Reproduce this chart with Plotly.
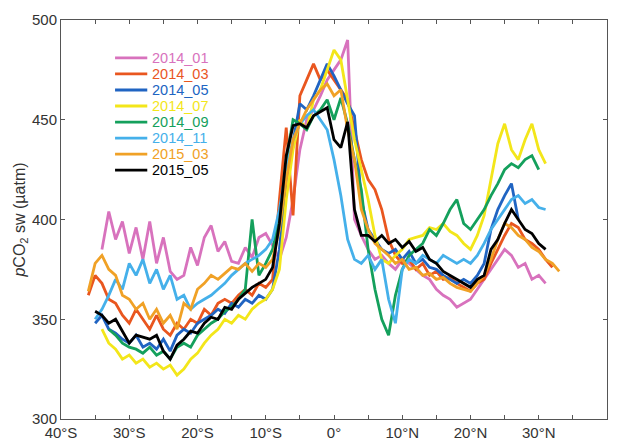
import plotly.graph_objects as go

# latitude grid (negative = south), 1 degree steps
LAT = [-36, -35, -34, -33, -32, -31, -30, -29, -28, -27, -26, -25, -24, -23, -22, -21,
       -20, -19, -18, -17, -16, -15, -14, -13, -12, -11, -10, -9, -8, -7, -6, -5, -4,
       -3, -2, -1, 0, 1, 2, 3, 4, 5, 6, 7, 8, 9, 10, 11, 12, 13, 14, 15, 16, 17, 18,
       19, 20, 21, 22, 23, 24, 25, 26, 27, 28, 29, 30, 31, 32, 33]

N = None

# pCO2 sw (uatm) per cruise, one value per LAT entry (None = no data)
p2014_01 = [N, N, 385, 404, 390, 399, 383, 396, 380, 399, 378, 391, 374, 370, 372, 386,
            377, 391, 397, 384, 389, 379, 378, 386, 381, 391, 393, 387, 380, 391, 410, 435,
            450, 455, 462, 470, 475, 480, 490, 400, 392, 385, 380, 382, 378, 375, 380, 378,
            375, 372, 370, 365, 362, 360, 356, 358, 360, 365, 370, 375, 380, 385, 382, 376,
            378, 370, 372, 368, N, N]
p2014_03 = [362, 372, 368, 360, 358, 352, 348, 355, 350, 345, 352, 345, 342, 348, 345, 350,
            348, 355, 352, 358, 360, 358, 362, 365, 362, 368, 366, 370, 410, 446, 402, 462,
            470, 478, 470, 475, 470, 465, 460, 445, 430, 420, 415, 405, 390, 382, 378, 380,
            375, 378, 372, 374, 370, 371, 368, 366, 364, 368, 370, 378, 385, 392, 398, 396,
            390, 388, 385, 380, 376, N]
p2014_05 = [N, 348, 352, 345, 343, 340, 338, 342, 336, 338, 335, 340, 334, 342, 345, 343,
            348, 350, 352, 355, 353, 358, 356, 360, 358, 362, 360, 365, 385, 420, 440, 458,
            455, 462, 470, 478, 472, 465, 458, 452, 410, 395, 390, 385, 383, 385, 380, 384,
            378, 380, 376, 375, 372, 370, 368, 370, 368, 372, 378, 395, 405, 412, 418, 400,
            N, N, N, N, N, N]
p2014_07 = [N, N, 345, 338, 335, 330, 332, 328, 330, 326, 328, 325, 327, 322, 325, 330,
            333, 338, 342, 345, 350, 348, 352, 350, 355, 358, 360, 365, 375, 410, 435, 450,
            445, 460, 465, 475, 485, 480, 460, 440, 425, 410, 392, 380, 378, 382, 385, 390,
            391, 392, 396, 395, 398, 394, 392, 388, 385, 392, 402, 420, 438, 448, 435, 430,
            440, 448, 435, 428, N, N]
p2014_09 = [N, N, N, 345, 342, 338, 336, 335, 333, 336, 332, 334, 330, 336, 338, 336,
            342, 345, 348, 350, 354, 356, 360, 365, 400, 372, 378, 385, 400, 430, 450, 448,
            445, 452, 455, 460, 450, 461, 448, 430, 415, 385, 365, 350, 342, 362, 375, 382,
            385, 388, 395, 392, 398, 405, 410, 398, 395, 400, 405, 412, 418, 425, 428, 426,
            430, 432, 425, N, N, N]
p2014_11 = [N, 350, 355, 362, 370, 365, 378, 372, 380, 368, 375, 365, 372, 360, 362, 355,
            358, 360, 362, 365, 368, 372, 375, 378, 380, 382, 385, 390, 405, 425, 440, 448,
            452, 455, 450, 445, 430, 412, 390, 380, 378, 382, 375, 380, 360, 348, 375, 380,
            378, 382, 380, 378, 382, 380, 378, 380, 378, 382, 388, 395, 400, 405, 410, 412,
            408, 410, 406, 405, N, N]
p2015_03 = [364, 378, 382, 375, 372, 362, 360, 355, 358, 350, 355, 348, 352, 345, 358, 355,
            365, 368, 372, 370, 373, 376, 375, 378, 374, 378, 376, 380, 395, 420, 440, 448,
            455, 460, 465, 468, 462, 465, 445, 430, 405, 395, 388, 385, 382, 378, 380, 375,
            376, 372, 373, 370, 371, 368, 366, 365, 364, 368, 372, 380, 390, 398, 396, 392,
            390, 386, 384, 380, 378, 374]
p2015_05 = [N, 354, 352, 348, 350, 344, 338, 342, 341, 340, 342, 334, 330, 337, 340, 344,
            343, 348, 351, 350, 356, 355, 360, 363, 366, 368, 370, 376, 398, 432, 447, 448,
            446, 452, 454, 456, 440, 436, 449, 405, 392, 392, 389, 392, 388, 390, 386, 389,
            384, 386, 380, 378, 374, 372, 370, 368, 366, 370, 372, 385, 390, 398, 405, 400,
            395, 393, 388, 385, N, N]

SERIES = [
    ("2014_01", p2014_01, "#d872bd"),
    ("2014_03", p2014_03, "#e9561f"),
    ("2014_05", p2014_05, "#2064c2"),
    ("2014_07", p2014_07, "#f3e61a"),
    ("2014_09", p2014_09, "#14a05c"),
    ("2014_11", p2014_11, "#45b0ea"),
    ("2015_03", p2015_03, "#f0a126"),
    ("2015_05", p2015_05, "#000000"),
]

X_TICKS = [-40, -30, -20, -10, 0, 10, 20, 30, 40]
X_LABELS = ["40°S", "30°S", "20°S", "10°S", "0°", "10°N", "20°N", "30°N", "40°N"]

fig = go.Figure()
for name, vals, color in SERIES:
    fig.add_scatter(
        x=LAT,
        y=vals,
        mode="lines",
        name=name,
        line=dict(color=color, width=2.8),
        showlegend=False,
    )

# legend drawn by hand (tight MATLAB-style spacing, coloured labels)
leg_top, leg_step = 0.905, 0.0402
for i, (name, _, color) in enumerate(SERIES):
    y = leg_top - i * leg_step
    fig.add_shape(type="line", xref="paper", yref="paper",
                  x0=0.099, x1=0.158, y0=y, y1=y,
                  line=dict(color=color, width=2.8))
    fig.add_annotation(xref="paper", yref="paper", x=0.163, y=y,
                       xanchor="left", yanchor="middle", showarrow=False,
                       text=name, font=dict(size=14.5, color=color))

axis_common = dict(
    showline=True,
    linecolor="#555",
    linewidth=1,
    mirror="ticks",
    ticks="inside",
    ticklen=4,
    tickcolor="#555",
    showgrid=False,
    zeroline=False,
    automargin=False,
    tickfont=dict(size=15, color="#333"),
)

# page body adds an 8px offset, so the figure is 8px smaller than the window
fig.update_layout(
    width=609,
    height=432,
    margin=dict(l=53, r=10, t=12, b=21),
    paper_bgcolor="white",
    plot_bgcolor="white",
    font=dict(family="Liberation Sans, Arial, sans-serif", color="#333"),
    xaxis=dict(
        range=[-40, 40],
        tickvals=X_TICKS,
        ticktext=X_LABELS,
        minor=dict(dtick=5, ticks="inside", ticklen=4, tickcolor="#555"),
        **axis_common,
    ),
    yaxis=dict(
        range=[300, 500],
        tickvals=[300, 350, 400, 450, 500],
        title=dict(text="<i>p</i>CO<sub>2</sub> sw (µatm)", font=dict(size=16), standoff=2),
        **axis_common,
    ),
)

fig.write_html("out.html")
